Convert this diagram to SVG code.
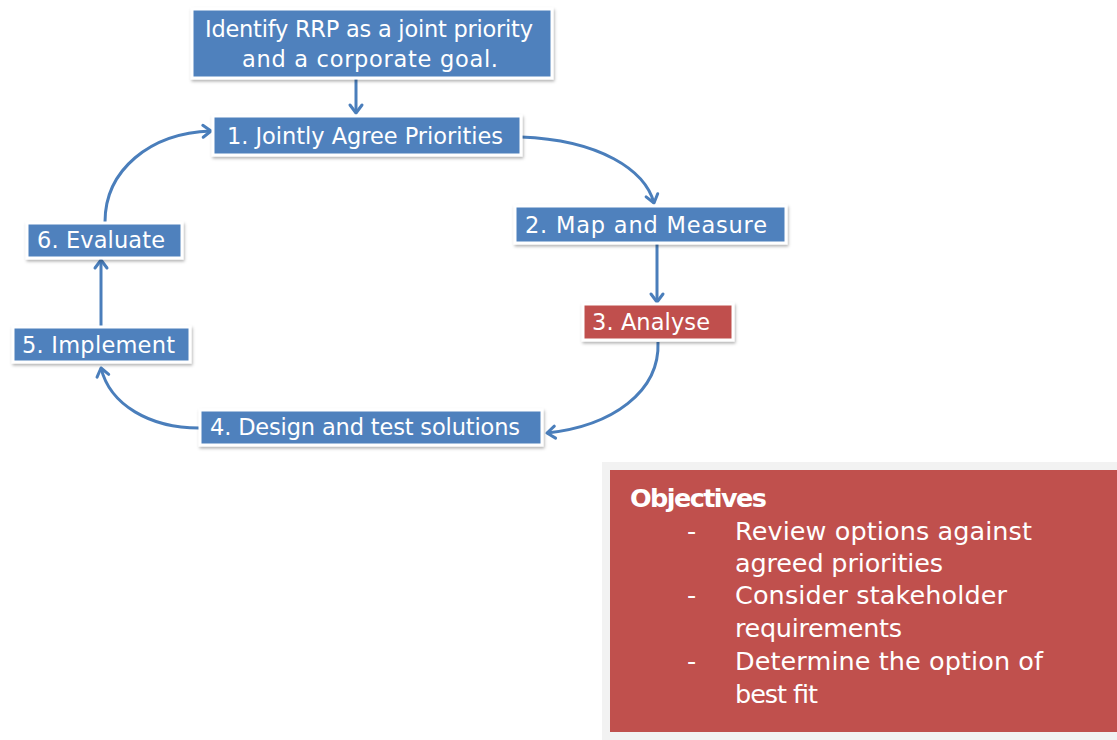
<svg xmlns="http://www.w3.org/2000/svg" width="1117" height="740" viewBox="0 0 1117 740">
  <defs>
    <style>
      .box { stroke: #ffffff; stroke-width: 3; filter: url(#shadow); }
      .blue { fill: #4F81BD; }
      .red { fill: #C0504D; }
      .lbl { font-family: "DejaVu Sans", "Liberation Sans", sans-serif; font-size: 22.5px; fill: #ffffff; }
      .obj { font-family: "DejaVu Sans", "Liberation Sans", sans-serif; font-size: 25.5px; fill: #ffffff; }
      .conn { fill: none; stroke: #4A7EBB; stroke-width: 3; marker-end: url(#chev); }
    </style>
    <filter id="shadow" x="-10%" y="-20%" width="120%" height="150%">
      <feDropShadow dx="1" dy="2" stdDeviation="1.5" flood-color="#000000" flood-opacity="0.3"/>
    </filter>
    <marker id="chev" markerUnits="userSpaceOnUse" markerWidth="20" markerHeight="20" viewBox="-12 -10 16 20" refX="0" refY="0" orient="auto">
      <path d="M-8,-6 L0,0 L-8,6" fill="none" stroke="#4A7EBB" stroke-width="3" stroke-linecap="round" stroke-linejoin="round"/>
    </marker>
  </defs>

  <rect width="1117" height="740" fill="#ffffff"/>

  <!-- connectors -->
  <g id="connectors">
    <path class="conn" d="M356,79 L356,113"/>
    <path class="conn" d="M521,137 C600,140 645,170 654,203"/>
    <path class="conn" d="M657,244 L657,302"/>
    <path class="conn" d="M658,342 C660,392 612,426 547,433"/>
    <path class="conn" d="M199,428 C150,428 110,405 101,368"/>
    <path class="conn" d="M101,327 L101,260"/>
    <path class="conn" d="M105,222 C105,170 150,133 211,131"/>
  </g>

  <g id="node-start">
    <rect class="box blue" x="192" y="9" width="360" height="69"/>
    <text class="lbl" x="205" y="37" textLength="328">Identify RRP as a joint priority</text>
    <text class="lbl" x="242" y="67" textLength="256">and a corporate goal.</text>
  </g>

  <g id="node-1">
    <rect class="box blue" x="213" y="116" width="308" height="39"/>
    <text class="lbl" x="227" y="144" textLength="276">1. Jointly Agree Priorities</text>
  </g>

  <g id="node-2">
    <rect class="box blue" x="515" y="206" width="271" height="37"/>
    <text class="lbl" x="525" y="233" textLength="242">2. Map and Measure</text>
  </g>

  <g id="node-3">
    <rect class="box red" x="583" y="304" width="150" height="36"/>
    <text class="lbl" x="592" y="330" textLength="118">3. Analyse</text>
  </g>

  <g id="node-4">
    <rect class="box blue" x="200" y="410" width="342" height="35"/>
    <text class="lbl" x="210" y="435" textLength="310">4. Design and test solutions</text>
  </g>

  <g id="node-5">
    <rect class="box blue" x="13" y="327" width="177" height="35"/>
    <text class="lbl" x="22" y="353" textLength="153">5. Implement</text>
  </g>

  <g id="node-6">
    <rect class="box blue" x="27" y="223" width="155" height="35"/>
    <text class="lbl" x="37" y="248" textLength="128">6. Evaluate</text>
  </g>

  <g id="objectives">
    <rect x="602" y="462" width="515" height="278" fill="#F2F2F2"/>
    <rect x="610" y="470" width="507" height="262" fill="#C0504D"/>
    <text class="obj" x="630" y="507" font-weight="bold" textLength="137">Objectives</text>
    <text class="obj" x="687" y="540">-</text>
    <text class="obj" x="735" y="540" textLength="297">Review options against</text>
    <text class="obj" x="735" y="572" textLength="208">agreed priorities</text>
    <text class="obj" x="687" y="604">-</text>
    <text class="obj" x="735" y="604" textLength="272">Consider stakeholder</text>
    <text class="obj" x="735" y="637" textLength="167">requirements</text>
    <text class="obj" x="687" y="670">-</text>
    <text class="obj" x="735" y="670" textLength="308">Determine the option of</text>
    <text class="obj" x="735" y="703" textLength="83">best fit</text>
  </g>
</svg>
